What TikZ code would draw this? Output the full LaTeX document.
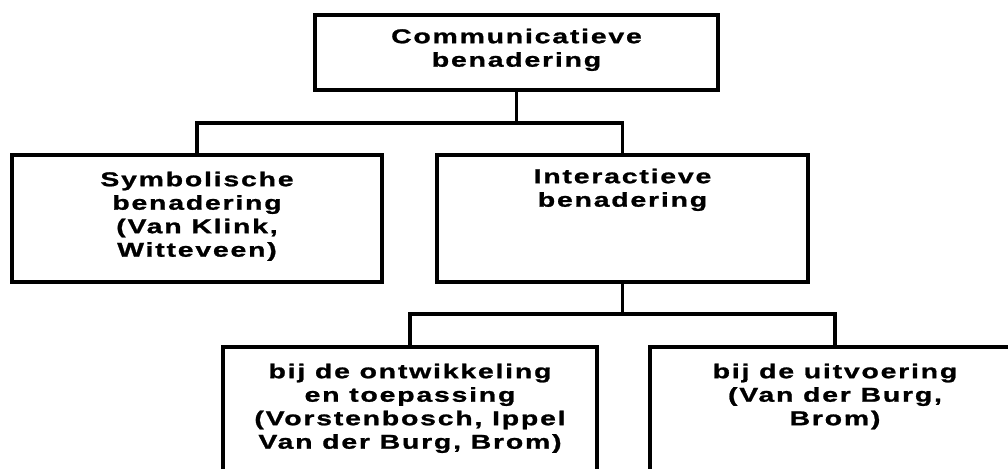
\documentclass[tikz,border=0pt]{standalone}
\usepackage{fontspec}
\newfontfamily\boxfont{Liberation Sans}[FakeStretch=1.42,LetterSpace=9,BoldFeatures={FakeBold=1.2}]
\newcommand{\lines}[1]{\begin{tabular}[t]{@{}c@{}}#1\end{tabular}}
\tikzset{
  box/.style={draw=black, line width=3.6pt, fill=white, inner sep=0pt, rectangle},
  lbl/.style={anchor=base, inner sep=0pt, font=\boxfont\bfseries\fontsize{20}{23.5}\selectfont},
  conn/.style={draw=black, line width=3.4pt, line cap=rect}
}
\begin{document}
\begin{tikzpicture}[x=1pt,y=1pt]
\useasboundingbox (0,0) rectangle (1008,-468);
\clip (0,0) rectangle (1008,-468);
% boxes
\node[box, minimum width=403pt, minimum height=75pt] (top) at (516.5,-52.5) {};
\node[box, minimum width=370pt, minimum height=127pt] (sym) at (197,-218.5) {};
\node[box, minimum width=371pt, minimum height=127pt] (int) at (622.5,-218.5) {};
\node[box, minimum width=374pt, minimum height=127pt] (ont) at (410,-410.5) {};
\node[box, minimum width=370pt, minimum height=127pt] (uit) at (835,-410.5) {};
% branch points
\coordinate (j1) at (516.5,-123);
\coordinate (j1l) at (197,-123);
\coordinate (j1r) at (622.5,-123);
\coordinate (j2) at (622.5,-314);
\coordinate (j2l) at (410,-314);
\coordinate (j2r) at (835,-314);
% connectors
\draw[conn] (top.south) -- (j1);
\draw[conn] (j1l) -- (j1r);
\draw[conn] (j1l) -- (sym.north);
\draw[conn] (j1r) -- (int.north);
\draw[conn] (int.south) -- (j2);
\draw[conn] (j2l) -- (j2r);
\draw[conn] (j2l) -- (ont.north);
\draw[conn] (j2r) -- (uit.north);
% labels
\node[lbl] (topt) at ([yshift=-30pt]top.north) {\lines{Communicatieve\\benadering}};
\node[lbl] (symt) at ([yshift=-33pt]sym.north) {\lines{Symbolische\\benadering\\(Van Klink,\\Witteveen)}};
\node[lbl] (intt) at ([yshift=-30pt]int.north) {\lines{Interactieve\\benadering}};
\node[lbl] (ontt) at ([yshift=-33pt]ont.north) {\lines{bij de ontwikkeling\\en toepassing\\(Vorstenbosch, Ippel\\Van der Burg, Brom)}};
\node[lbl] (uitt) at ([yshift=-33pt]uit.north) {\lines{bij de uitvoering\\(Van der Burg,\\Brom)}};
\end{tikzpicture}
\end{document}
